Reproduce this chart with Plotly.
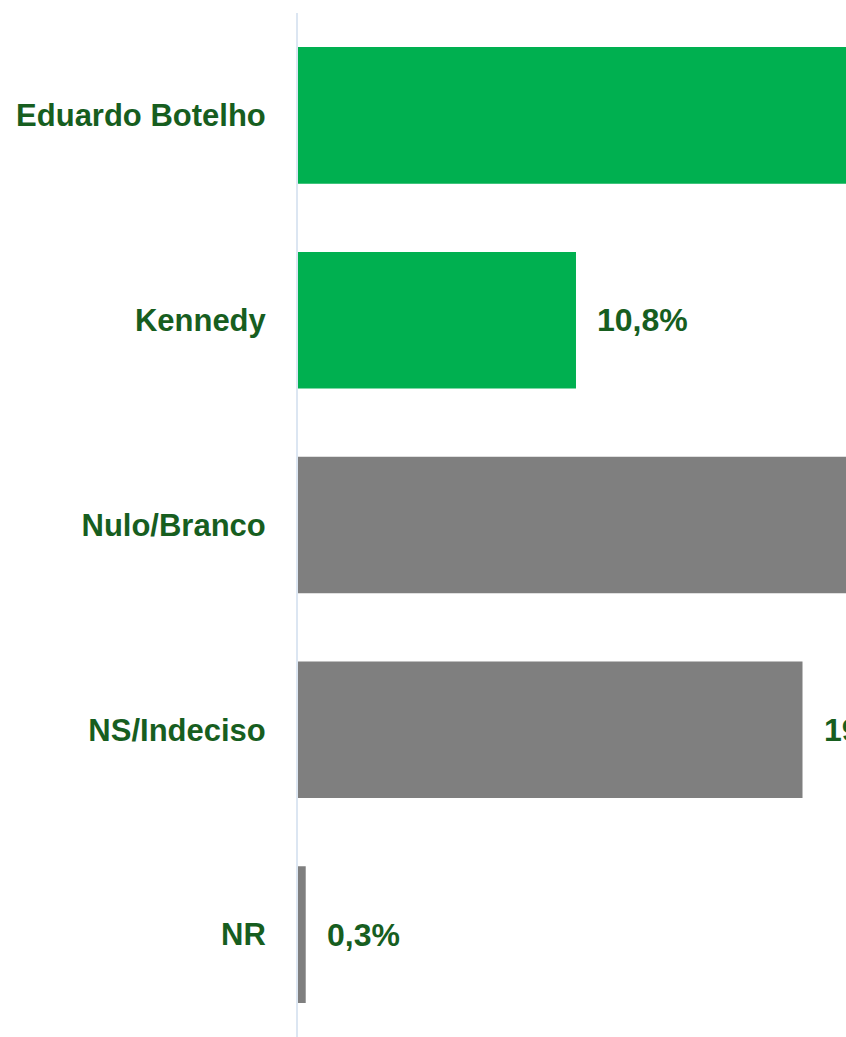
import plotly.graph_objects as go

categories = ["Eduardo Botelho", "Kennedy", "Nulo/Branco", "NS/Indeciso", "NR"]
values = [45.2, 10.8, 24.6, 19.6, 0.3]
colors = ["#00B050", "#00B050", "#7F7F7F", "#7F7F7F", "#7F7F7F"]

label_color = "#175E1F"
font_family = "Liberation Sans Narrow, Arial Narrow, Liberation Sans, Arial, sans-serif"

fig = go.Figure()
fig.add_trace(go.Bar(
    x=values,
    y=categories,
    orientation="h",
    marker=dict(color=colors, line=dict(width=0)),
    width=0.667,
    cliponaxis=True,
    hoverinfo="skip",
))

for cat, val in zip(categories, values):
    fig.add_annotation(
        x=val, y=cat, xref="x", yref="y",
        text="<b>" + f"{val:.1f}%".replace(".", ",") + "</b>",
        showarrow=False, xanchor="left", yanchor="middle", xshift=19,
        font=dict(family=font_family, size=32, color=label_color),
    )

fig.update_layout(
    width=846, height=1037,
    margin=dict(l=298, r=0, t=13, b=0),
    paper_bgcolor="white", plot_bgcolor="white",
    showlegend=False,
    bargap=0.333,
)
fig.update_xaxes(range=[0, 21.29], visible=False, fixedrange=True, automargin=False)
fig.update_yaxes(
    categoryorder="array", categoryarray=categories[::-1],
    range=[-0.5, 4.5], automargin=False,
    showline=True, linecolor="#DCE6F2", linewidth=2,
    showgrid=False, ticks="", ticklabelstandoff=24,
    tickfont=dict(family=font_family, size=31, color=label_color, weight="bold"),
)

fig.write_html("out.html")
